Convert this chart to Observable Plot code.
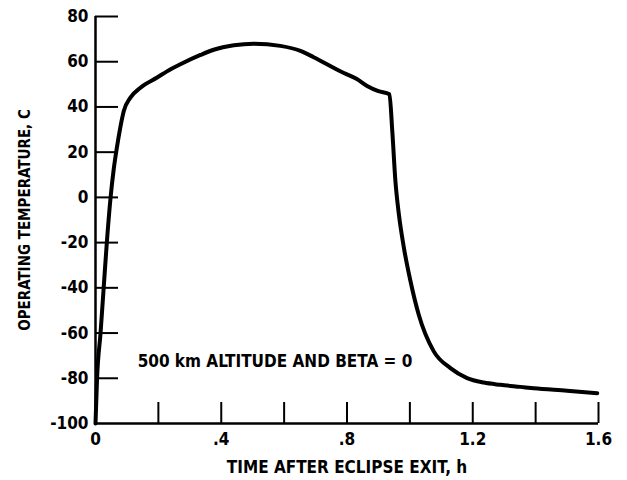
<!DOCTYPE html>
<html>
<head>
<meta charset="utf-8">
<script src="https://cdn.jsdelivr.net/npm/d3@7"></script>
<script src="https://cdn.jsdelivr.net/npm/@observablehq/plot@0.6"></script>
<style>
  body { margin: 0; background: #fff; }
</style>
</head>
<body>
<div id="chart"></div>
<script>
// Time after eclipse exit (h)
const timeH = [0, 0.005, 0.016, 0.026, 0.036, 0.048, 0.058, 0.068, 0.079, 0.09, 0.111, 0.143, 0.196, 0.239, 0.27, 0.334, 0.376, 0.44, 0.503, 0.588, 0.652, 0.694, 0.79, 0.83, 0.864, 0.9, 0.935, 0.944, 0.954, 0.965, 0.981, 1.002, 1.028, 1.076, 1.129, 1.182, 1.235, 1.288, 1.352, 1.394, 1.5, 1.596];
// Operating temperature (C)
const tempC = [-100, -80, -60, -40, -20, 0, 12.5, 22, 31, 38.2, 44.1, 48.5, 53, 56.7, 58.9, 63, 65.3, 67.3, 68, 67, 64.8, 62, 55, 52.5, 49.3, 47, 45.6, 29.4, 7.2, -7.5, -22.3, -37.1, -51.8, -68.1, -75.5, -79.9, -81.9, -82.9, -83.8, -84.4, -85.5, -86.6];

const xTickValues = [0.2, 0.4, 0.6, 0.8, 1.0, 1.2, 1.4, 1.6];
const xLabelValues = [0, 0.4, 0.8, 1.2, 1.6];
const xLabelText = ["0", ".4", ".8", "1.2", "1.6"];
const yTickValues = [-80, -60, -40, -20, 0, 20, 40, 60, 80];
const yLabelValues = [-100, -80, -60, -40, -20, 0, 20, 40, 60, 80];
const xDomain = [0, 1.6];
const yDomain = [-100, 80];

const xTitle = "TIME AFTER ECLIPSE EXIT, h";
const yTitle = "OPERATING TEMPERATURE, C";
const annotation = ["500 km ALTITUDE AND BETA = 0"];
const annotationX = [0.134];
const annotationY = [-72.5];

const data = timeH.map((t, i) => ({t, c: tempC[i]}));
const FONT = "DejaVu Sans Condensed, Liberation Sans Narrow, sans-serif";

const chart = Plot.plot({
  width: 627,
  height: 480,
  marginLeft: 95,
  marginRight: 29,
  marginTop: 16,
  marginBottom: 57,
  style: {fontFamily: FONT, fontSize: "17px", fontWeight: "bold", color: "#000", background: "#fff"},
  x: {domain: xDomain},
  y: {domain: yDomain},
  marks: [
    // inward ticks
    Plot.axisX({ticks: xTickValues, tickSize: -21, tickPadding: 0, text: null, strokeWidth: 2, label: null}),
    Plot.axisY({ticks: yTickValues, tickSize: -23, tickPadding: 0, text: null, strokeWidth: 2, label: null}),
    // labels
    Plot.axisX({ticks: xLabelValues, tickSize: 0, tickPadding: 9, tickFormat: (d) => xLabelText[xLabelValues.indexOf(d)], label: null, fontSize: 17}),
    Plot.axisY({ticks: yLabelValues, tickSize: 0, tickPadding: 7, tickFormat: (d) => String(d), label: null, fontSize: 17}),
    // axis lines
    Plot.ruleX([xDomain[0]], {strokeWidth: 2.5}),
    Plot.ruleY([yDomain[0]], {strokeWidth: 2.5}),
    // curve
    Plot.line(data, {x: "t", y: "c", curve: "monotone-x", strokeWidth: 4, stroke: "#000", strokeLinejoin: "round", strokeLinecap: "round"}),
    // annotation
    Plot.text(annotation, {x: (d, i) => annotationX[i], y: (d, i) => annotationY[i], text: (d) => d, textAnchor: "start", fontSize: 17, fontWeight: "bold"}),
    // titles
    Plot.text([xTitle], {frameAnchor: "bottom", dy: 44, lineAnchor: "middle", textAnchor: "middle", text: (d) => d, fontSize: 17, fontWeight: "bold"}),
    Plot.text([yTitle], {frameAnchor: "left", dx: -70, rotate: -90, lineAnchor: "middle", textAnchor: "middle", text: (d) => d, fontSize: 15, fontWeight: "bold"})
  ]
});
document.getElementById("chart").appendChild(chart);
</script>
</body>
</html>
